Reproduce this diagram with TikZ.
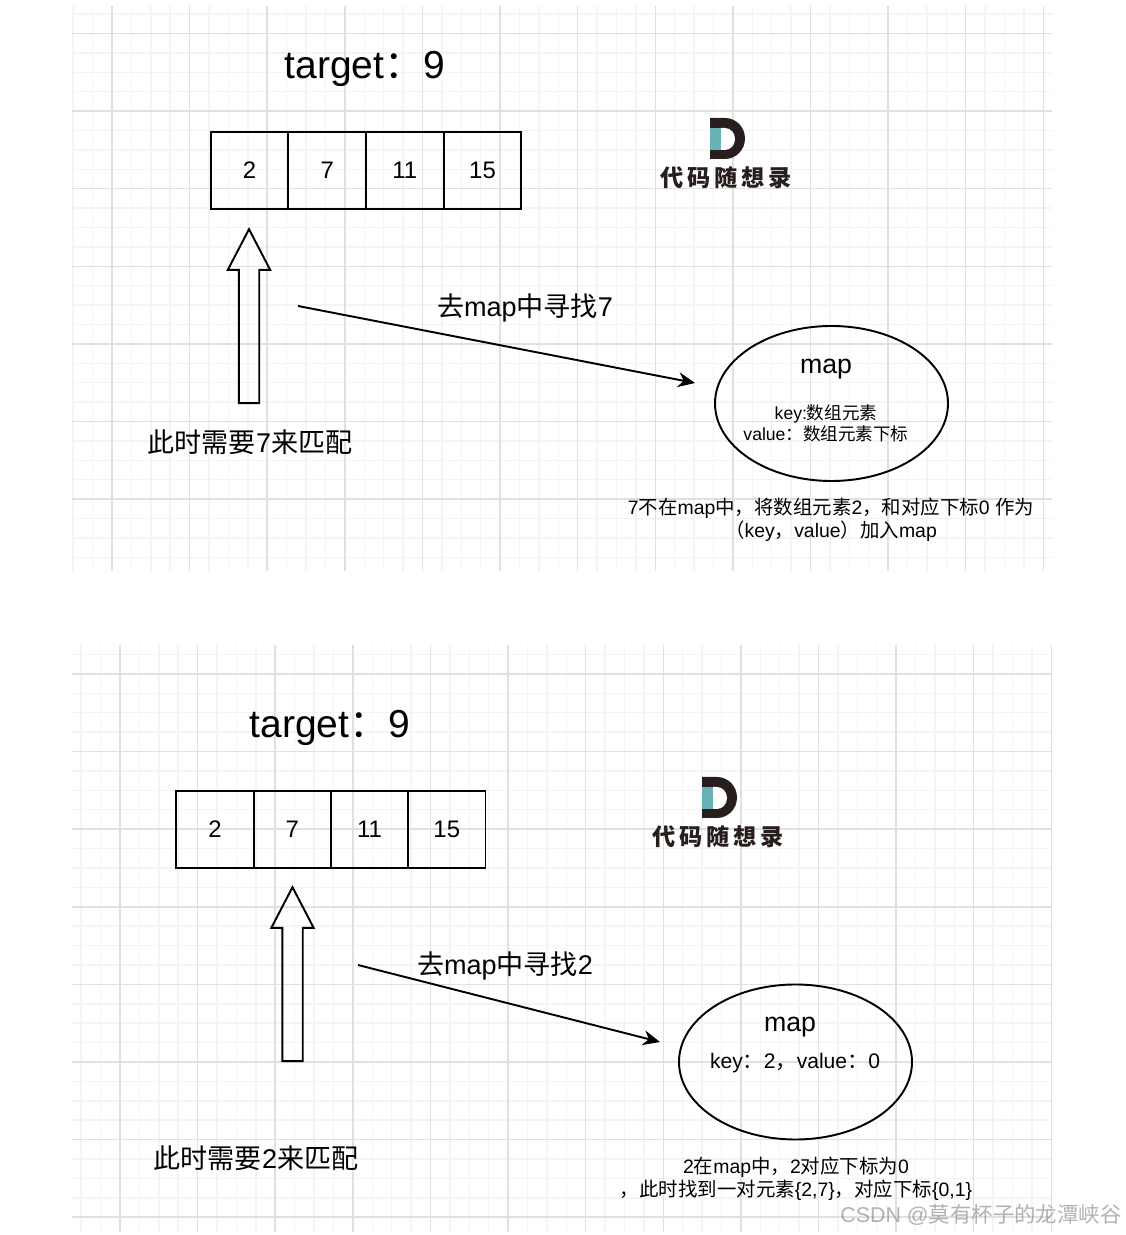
\documentclass[tikz,border=0pt]{standalone}
\usepackage{fontspec}
\setmainfont{Liberation Sans}
\newfontfamily\cjk{Noto Sans CJK SC}
\usetikzlibrary{arrows.meta, shapes.geometric, shapes.arrows}
\newcommand{\zh}[1]{{\cjk #1}}
\definecolor{gridmajor}{RGB}{224,224,224}
\definecolor{gridminor}{RGB}{244,244,244}
\definecolor{logodark}{RGB}{40,30,30}
\definecolor{logoteal}{RGB}{104,178,182}
\newcommand{\sheetgrid}[4]{
  \begin{scope}
  \clip (0.72,#1) rectangle (10.52,#2);
  \foreach \i in {0,...,52}{
    \draw[gridminor] ({#3-0.388+0.194*\i},#1) -- ({#3-0.388+0.194*\i},#2);
    \draw[gridminor] (0.72,{#4+0.194-0.194*\i}) -- (10.52,{#4+0.194-0.194*\i});
  }
  \foreach \i in {0,...,13}{
    \draw[gridmajor] ({#3+0.776*\i},#1) -- ({#3+0.776*\i},#2);
    \draw[gridmajor] (0.72,{#4-0.776*\i}) -- (10.52,{#4-0.776*\i});
  }
  \end{scope}
}
\tikzset{
  cellbox/.style={draw, line width=0.55pt, minimum size=0.775cm, inner sep=0pt, font=\fontsize{6.8}{8}\selectfont},
  mapbox/.style={draw, ellipse, line width=0.55pt, minimum width=2.33cm, minimum height=1.55cm, inner sep=0pt},
  uparrow/.style={draw, single arrow, line width=0.55pt, rotate=90, inner sep=0pt, text height=0.185cm, text depth=0pt,
    minimum height=1.74cm, minimum width=0.41cm, single arrow head extend=0.11cm, single arrow tip angle=55},
  findline/.style={line width=0.55pt, -{Stealth[length=1.7mm,width=1.5mm]}},
  titletext/.style={font=\fontsize{11.1}{13}\selectfont},
  labeltext/.style={font=\fontsize{7.7}{9}\selectfont},
  mapname/.style={font=\fontsize{7.6}{9}\selectfont},
  smalltext/.style={font=\fontsize{5}{6}\selectfont, align=center},
  notetext/.style={font=\fontsize{5.53}{6.6}\selectfont, align=center},
}
\begin{document}
\begin{tikzpicture}[x=1cm, y=1cm]
\useasboundingbox (0,0) rectangle (11.25,12.35);
\fill[white] (0,0) rectangle (11.25,12.35);

% ---- grids ----
\sheetgrid{12.29}{6.64}{1.12}{12.015}
\sheetgrid{5.90}{0.03}{1.20}{5.61}

% ---- logos ----
\foreach \n/\ox/\oy in {a/0/0, b/-0.08/-6.59}{
  \begin{scope}[shift={(\ox,\oy)}]
  \fill[logodark] (7.10,11.17) -- (7.25,11.17) arc[x radius=0.20, y radius=0.205, start angle=90, end angle=-90]
    -- (7.10,10.76) -- cycle;
  \fill[logoteal] (7.10,11.07) rectangle (7.21,10.85);
  \fill[white] (7.21,11.07) -- (7.25,11.07) arc[x radius=0.10, y radius=0.11, start angle=90, end angle=-90]
    -- (7.21,10.85) -- cycle;
  \node[font=\fontsize{6.6}{8}\selectfont\cjk\bfseries, logodark] (logo\n) at (7.26,10.57)
    {代\,码\,随\,想\,录};
  \end{scope}
}

% ---- first sheet ----
\node[titletext] (targeta) at (3.65,11.66) {target\zh{：}9};
\foreach \i/\v in {0/2, 1/7, 2/11, 3/15}{
  \node[cellbox] (a\i) at ({2.495+0.7767*\i},10.645) {\v};
}
\node[uparrow] (upa) at (2.49,9.09) {};
\node[labeltext] (needa) at (2.50,7.93) {\zh{此时需要}7\zh{来匹配}};
\node[labeltext] (finda) at (5.25,9.27) {\zh{去}map\zh{中寻找}7};
\coordinate (froma) at (2.98,9.29);
\coordinate (toa) at (6.95,8.52);
\draw[findline] (froma) -- (toa);
\node[mapbox] (mapa) at (8.315,8.315) {};
\node[mapname] (mapnamea) at (8.26,8.66) {map};
\node[smalltext] (mapkeya) at (8.26,8.12) {key:\zh{数组元素}\\value\zh{：数组元素下标}};
\node[notetext] (notea) at (8.31,7.15)
  {7\zh{不在}map\zh{中，将数组元素}2\zh{，和对应下标}0 \zh{作为}\\\zh{（}key\zh{，}value\zh{）加入}map};

% ---- second sheet ----
\node[titletext] (targetb) at (3.30,5.07) {target\zh{：}9};
\foreach \i/\v in {0/2, 1/7, 2/11, 3/15}{
  \node[cellbox] (b\i) at ({2.15+0.7725*\i},4.055) {\v};
}
\node[uparrow] (upb) at (2.925,2.51) {};
\node[labeltext] (needb) at (2.56,0.77) {\zh{此时需要}2\zh{来匹配}};
\node[labeltext] (findb) at (5.05,2.69) {\zh{去}map\zh{中寻找}2};
\coordinate (fromb) at (3.58,2.70);
\coordinate (tob) at (6.60,1.93);
\draw[findline] (fromb) -- (tob);
\node[mapbox] (mapb) at (7.955,1.73) {};
\node[mapname] (mapnameb) at (7.90,2.08) {map};
\node[font=\fontsize{6}{7}\selectfont] (mapkeyb) at (7.95,1.72) {key\zh{：}2\zh{，}value\zh{：}0};
\node[notetext] (noteb) at (7.96,0.565)
  {2\zh{在}map\zh{中，}2\zh{对应下标为}0\\\zh{，此时找到一对元素}\{2,7\}\zh{，对应下标}\{0,1\}};

% ---- watermark ----
\node[font=\fontsize{6.1}{7}\selectfont, gray, opacity=0.6] (mark) at (9.81,0.20)
  {CSDN @\zh{莫有杯子的龙潭峡谷}};
\end{tikzpicture}
\end{document}
